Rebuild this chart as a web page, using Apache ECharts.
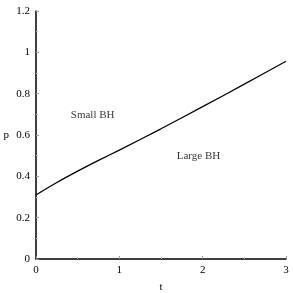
<!DOCTYPE html>
<html><head><meta charset="utf-8">
<script src="https://cdn.jsdelivr.net/npm/echarts@6/dist/echarts.min.js"></script>
<style>html,body{margin:0;padding:0;background:#fff}#c{width:293px;height:293px}</style>
</head><body><div id="c"></div>
<script>
const tValues = [0, 0.25, 0.5, 0.75, 1, 1.5, 2, 2.5, 3];
const pValues = [0.31, 0.37, 0.425, 0.477, 0.527, 0.63, 0.737, 0.846, 0.957];
const regionNames = ['Small BH', 'Large BH'];
const regionT = [0.68, 1.95];
const regionP = [0.696, 0.498];

const font = 'Liberation Serif';
const chart = echarts.init(document.getElementById('c'));
chart.setOption({
  animation: false,
  grid: {left: 36, right: 7, top: 11, bottom: 34, containLabel: false, outerBoundsMode: 'none'},
  xAxis: {
    type: 'value', min: 0, max: 3, interval: 1,
    name: 't', nameLocation: 'middle', nameGap: 23,
    nameTextStyle: {fontFamily: font, fontSize: 11, color: '#000'},
    axisLine: {lineStyle: {color: '#000', width: 1.5}},
    axisTick: {inside: true, length: 3, lineStyle: {color: '#999'}},
    minorTick: {show: true, splitNumber: 2, length: 2, lineStyle: {color: '#bbb'}},
    axisLabel: {fontFamily: font, fontSize: 11, color: '#000', margin: 6},
    splitLine: {show: false}
  },
  yAxis: {
    type: 'value', min: 0, max: 1.2, interval: 0.2,
    name: 'p', nameLocation: 'middle', nameRotate: 0, nameGap: 27,
    nameTextStyle: {fontFamily: font, fontSize: 11, color: '#000'},
    axisLine: {show: true, lineStyle: {color: '#000', width: 1.5}},
    axisTick: {show: true, inside: true, length: 3, lineStyle: {color: '#999'}},
    minorTick: {show: true, splitNumber: 2, length: 2, lineStyle: {color: '#bbb'}},
    axisLabel: {fontFamily: font, fontSize: 11, color: '#000', margin: 6,
      formatter: v => String(Math.round(v * 10) / 10)},
    splitLine: {show: false}
  },
  series: [
    {
      type: 'line', smooth: 0.3, symbol: 'none',
      data: tValues.map((t, i) => [t, pValues[i]]),
      lineStyle: {color: '#000', width: 1.3}
    },
    {
      type: 'scatter', symbolSize: 0,
      data: regionNames.map((n, i) => ({value: [regionT[i], regionP[i]], name: n})),
      label: {show: true, position: 'inside', formatter: p => p.name,
        fontFamily: font, fontSize: 11, color: '#000'}
    }
  ]
});
</script></body></html>
